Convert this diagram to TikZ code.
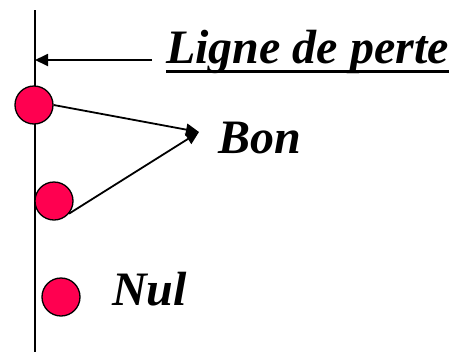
\documentclass[tikz,border=0pt]{standalone}
\usepackage{fontspec}
\setmainfont{Liberation Serif}
\usetikzlibrary{arrows.meta}
\definecolor{ballred}{RGB}{255,0,80}
\tikzset{
  ball/.style={circle, draw=black, line width=1.3pt, fill=ballred, minimum size=38pt, inner sep=0pt},
  lbl/.style={font=\fontsize{48}{52}\selectfont\bfseries\itshape, inner sep=0pt},
  arr/.style={line width=1.8pt, -{Triangle[length=13pt,width=12pt]}},
  plain/.style={line width=1.8pt}
}
\begin{document}
\begin{tikzpicture}[x=1pt,y=-1pt]
  \useasboundingbox (0,0) rectangle (452,351);
  % the loss line
  \coordinate (top) at (35,10);
  \coordinate (bot) at (35,352);
  \draw[plain] (top) -- (bot);
  % caption and its arrow
  \node[lbl, anchor=base west] (title) at (166,63) {Ligne de perte};
  \draw[line width=3pt] ([yshift=-8pt]title.base west) -- ([yshift=-8pt]title.base east);
  \coordinate (start) at (152,60);
  \draw[arr] (start) -- (start -| top);
  % balls
  \node[ball] (c1) at (34,105) {};
  \node[ball] (c2) at (54,201) {};
  \node[ball] (c3) at (61,297) {};
  % arrows to "Bon"
  \coordinate (tip) at (199,132);
  \draw[arr] (c1.east) -- (tip);
  \draw[arr] (c2.-40) -- (tip);
  \node[lbl, anchor=base west] (bon) at (218,153) {Bon};
  \node[lbl, anchor=base west] (nul) at (112,305) {Nul};
\end{tikzpicture}
\end{document}
